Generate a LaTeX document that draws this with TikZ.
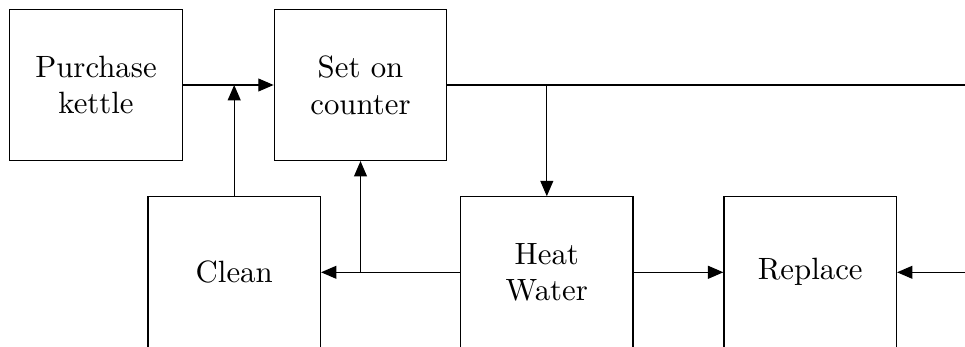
\documentclass[tikz,border=0pt]{standalone}
\usetikzlibrary{arrows.meta}
\begin{document}
\begin{tikzpicture}[x=0.3247pt,y=-0.3247pt,
  box/.style={draw,rectangle,minimum width=56pt,minimum height=49pt,inner sep=0pt,align=center},
  arr/.style={-{Triangle[length=5pt,width=4.2pt]}},
  line width=0.4pt]
\useasboundingbox (0,0) rectangle (965,347);
\clip (0,0) rectangle (965,347);
\node[box] (buy) at (96,85) {Purchase\\kettle};
\node[box] (set) at (360.5,85) {Set on\\counter};
\node[box] (clean) at (234.2,272.3) {Clean};
\node[box] (heat) at (546.8,272.3) {Heat\\Water};
\node[box] (rep) at (810.2,272.3) {Replace};
\coordinate (farA) at (975,85);
\coordinate (farB) at (975,272.3);
\coordinate (j1) at (clean.north |- buy.east);
\coordinate (j2) at (heat.north |- set.east);
\coordinate (j3) at (set.south |- heat.west);
\draw[arr] (buy.east) -- (set.west);
\draw[arr] (clean.north) -- (j1);
\draw (set.east) -- (farA);
\draw[arr] (j2) -- (heat.north);
\draw[arr] (heat.west) -- (clean.east);
\draw[arr] (j3) -- (set.south);
\draw[arr] (heat.east) -- (rep.west);
\draw[arr] (farB) -- (rep.east);
\end{tikzpicture}
\end{document}
